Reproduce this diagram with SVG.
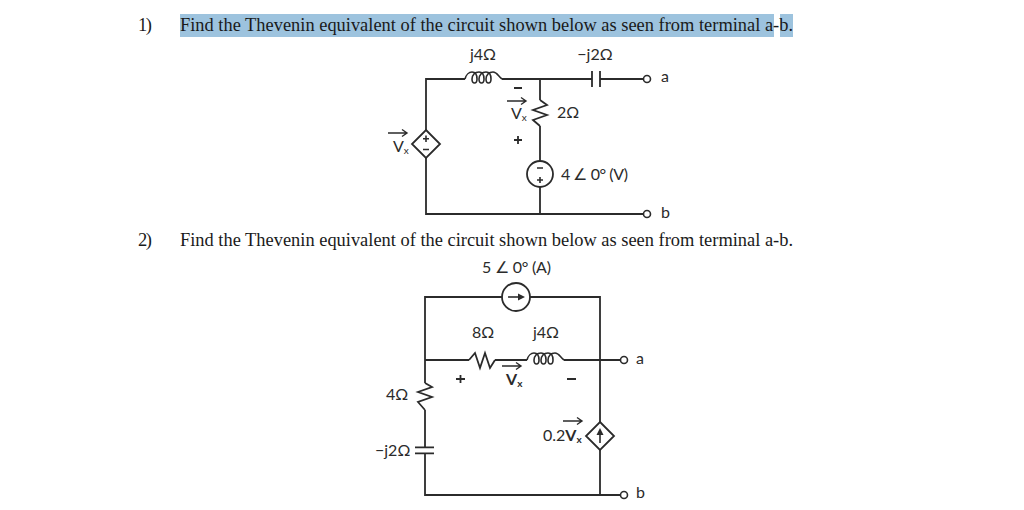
<svg xmlns="http://www.w3.org/2000/svg" width="1024" height="510" viewBox="0 0 1024 510">
<style>
.w{fill:none;stroke:#2b2b2b;stroke-width:1.8}
.t{fill:none;stroke:#2b2b2b;stroke-width:1.6}
.a{fill:#2b2b2b;stroke:none}
.s{font-family:"Liberation Serif",serif;font-size:18.500px;fill:#1a1a1a}
.c{font-family:"Lato","Open Sans",sans-serif;font-size:16px;fill:#2b2b2b}
.b{font-family:"Lato","Open Sans",sans-serif;font-size:16px;font-weight:700;fill:#2b2b2b}
.u{font-size:10px}
</style>
<defs>
<path id="arr" d="M0 0H18.500M14 -3.500L19 0L14 3.500" fill="none" stroke="#2b2b2b" stroke-width="1.400"/>
<path id="coil" d="M0 0C1 -4 4 -7 7 -7C11 -7 12 -3 12 0C12 3 11 4 9.500 4C8 4 7 3 7 0C7 -4 10 -7 14 -7C18 -7 19 -3 19 0C19 3 18 4 16.500 4C15 4 14 3 14 0C14 -4 17 -7 21 -7C25 -7 26 -3 26 0C26 3 25 4 23.500 4C22 4 21 3 21 0C21 -4 24 -7 28 -7C32 -7 33 -3 37 0" fill="none" stroke="#2b2b2b" stroke-width="1.600"/>
</defs>
<g id="problem-text">
<rect x="180" y="14" width="594" height="23" fill="#9dc3de"/>
<rect x="780" y="14" width="13" height="23" fill="#9dc3de"/>
<text class="s" x="138" y="31" textLength="14">1)</text>
<text class="s" x="180" y="31" textLength="613" lengthAdjust="spacingAndGlyphs">Find the Thevenin equivalent of the circuit shown below as seen from terminal a-b.</text>
<text class="s" x="138" y="246" textLength="14">2)</text>
<text class="s" x="180" y="246" textLength="613" lengthAdjust="spacingAndGlyphs">Find the Thevenin equivalent of the circuit shown below as seen from terminal a-b.</text>
</g>
<g id="connectors">
<path class="w" d="M426 130V79H465M502 79H592M600 79H643M540 79V100M540 126V161M540 187V214M426 158V214H643"/>
<path class="w" d="M425 383V297H502M530 297H600V422M600 450V495M425 360H469M495 360H527M564 360H620M425 410V447M425 453V495H620"/>
</g>
<g id="n1-inductor"><use href="#coil" x="465" y="79"/><text class="c" x="483" y="60" text-anchor="middle">j4Ω</text></g>
<g id="n1-capacitor"><path class="w" d="M592 71V87M600 71V87"/><text class="c" x="595" y="60" text-anchor="middle">−j2Ω</text></g>
<g id="n1-terminal-a"><circle class="t" cx="647" cy="79" r="3.500" fill="#fff"/><text class="c" x="661" y="82">a</text></g>
<g id="n1-terminal-b"><circle class="t" cx="647" cy="214" r="3.500" fill="#fff"/><text class="c" x="661" y="218">b</text></g>
<g id="n1-resistor"><path class="w" d="M540 100L547 105L533 110L547 115L533 120L540 126"/><text class="c" x="557" y="118">2Ω</text></g>
<g id="n1-voltage-label">
<path class="w" d="M514 88H522M514 140H522M518 136V144"/>
<use href="#arr" x="507" y="101"/>
<text class="c" x="511" y="119">V<tspan class="u" dy="2">x</tspan></text>
</g>
<g id="n1-dependent-source">
<path class="w" d="M426 130L440 144L426 158L412 144Z"/>
<path class="t" d="M426 135.500V142M423 138.700H429M423 149.500H429"/>
<use href="#arr" x="388" y="133"/>
<text class="c" x="393" y="152">V<tspan class="u" dy="2">x</tspan></text>
</g>
<g id="n1-voltage-source">
<circle class="w" cx="540" cy="174" r="13"/>
<path class="t" d="M537 168H543M537 180H543M540 177V183"/>
<text class="c" x="561" y="180" textLength="67">4 ∠ 0° (V)</text>
</g>
<g id="n2-current-source">
<circle class="w" cx="516" cy="297" r="14"/>
<path class="t" d="M508 297H523"/><path class="a" d="M525 297L518 293.500V300.500Z"/>
<text class="c" x="482" y="273" textLength="69">5 ∠ 0° (A)</text>
</g>
<g id="n2-resistor-8"><path class="w" d="M469 360L475 353L480 368L485 353L490 368L495 360"/><text class="c" x="483" y="338" text-anchor="middle">8Ω</text></g>
<g id="n2-inductor"><use href="#coil" x="527" y="360"/><text class="c" x="546" y="338" text-anchor="middle">j4Ω</text></g>
<g id="n2-voltage-label">
<path class="w" d="M456 379H465M460.500 375V383M567 379H576"/>
<use href="#arr" x="502" y="366"/>
<text class="b" x="506" y="385">V<tspan class="u" dy="2">x</tspan></text>
</g>
<g id="n2-terminal-a"><circle class="t" cx="624" cy="360" r="3.500" fill="#fff"/><text class="c" x="636" y="364">a</text></g>
<g id="n2-terminal-b"><circle class="t" cx="624" cy="495" r="3.500" fill="#fff"/><text class="c" x="636" y="498">b</text></g>
<g id="n2-resistor-4"><path class="w" d="M425 383L432 387L418 392L432 397L418 402L425 410"/><text class="c" x="386" y="400">4Ω</text></g>
<g id="n2-capacitor"><path class="w" d="M415 447.300H434M415 453.300H434"/><text class="c" x="375" y="456">−j2Ω</text></g>
<g id="n2-dependent-source">
<path class="w" d="M600 422L614 436L600 450L586 436Z"/>
<path class="t" d="M600 443V432"/><path class="a" d="M600 428L596.500 435H603.500Z"/>
<use href="#arr" x="563" y="421"/>
<text class="c" x="543" y="441">0.2<tspan font-weight="700">V</tspan><tspan class="u" font-weight="700" dy="2">x</tspan></text>
</g>
</svg>
